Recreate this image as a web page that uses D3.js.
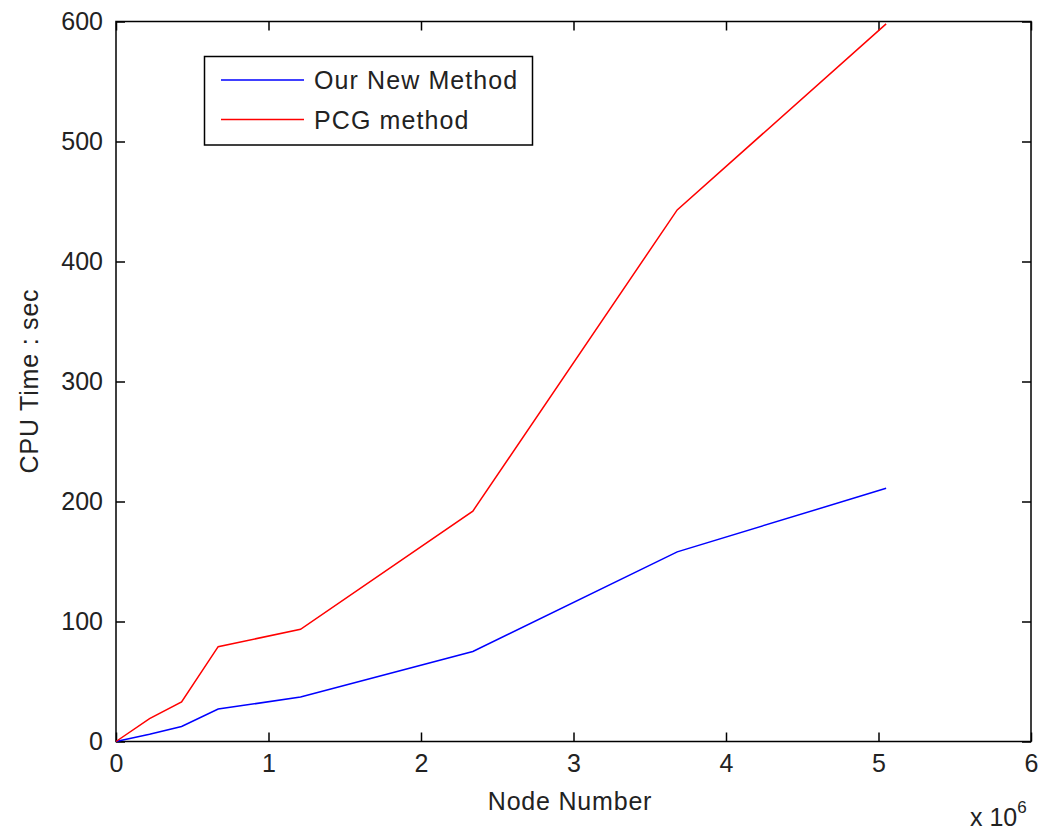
<!DOCTYPE html>
<html><head><meta charset="utf-8">
<script src="https://cdn.jsdelivr.net/npm/d3@7"></script>
<style>body{margin:0;background:#fff}</style>
</head><body>
<svg id="c" width="1038" height="835"></svg>
<script>
const xNodes = [0, 0.22, 0.43, 0.67, 1.21, 2.34, 3.68, 5.05];
const ourNew = [0, 6, 12.5, 27, 37, 75, 158, 211];
const pcg    = [0, 19, 33, 79, 93.5, 192, 443, 598];
const seriesNames = ["Our New Method", "PCG method"];
const seriesColors = ["#0000ff", "#ff0000"];
const xTicks = [0,1,2,3,4,5,6];
const yTicks = [0,100,200,300,400,500,600];

const L=116, R=1031, T=21.5, B=741.5;
const svg = d3.select("#c");
const x = d3.scaleLinear().domain([0,6]).range([L,R]);
const y = d3.scaleLinear().domain([0,600]).range([B,T]);
const font = "'Liberation Sans', Arial, sans-serif";
const fs = 25;

const tl = 9;
function styleAxis(g){
  g.selectAll("path").remove();
  g.selectAll("line").attr("stroke","#000").attr("stroke-width",1.5);
  g.selectAll("text").attr("font-family",font).attr("font-size",fs).attr("fill","#222");
}
svg.append("g").attr("transform",`translate(0,${B})`)
  .call(d3.axisBottom(x).tickValues(xTicks).tickSizeInner(-tl).tickSizeOuter(0).tickPadding(13).tickFormat(d3.format("d")))
  .call(styleAxis);
svg.append("g").attr("transform",`translate(0,${T})`)
  .call(d3.axisTop(x).tickValues(xTicks).tickSizeInner(-tl).tickSizeOuter(0).tickFormat(""))
  .call(styleAxis);
svg.append("g").attr("transform",`translate(${L},0)`)
  .call(d3.axisLeft(y).tickValues(yTicks).tickSizeInner(-tl).tickSizeOuter(0).tickPadding(13).tickFormat(d3.format("d")))
  .call(styleAxis);
svg.append("g").attr("transform",`translate(${R},0)`)
  .call(d3.axisRight(y).tickValues(yTicks).tickSizeInner(-tl).tickSizeOuter(0).tickFormat(""))
  .call(styleAxis);

svg.append("rect").attr("x",L).attr("y",T).attr("width",R-L).attr("height",B-T)
  .attr("fill","none").attr("stroke","#000").attr("stroke-width",1.5);

const line = d3.line().x((d,i)=>x(xNodes[i])).y(d=>y(d));
[ourNew, pcg].forEach((s,k)=>{
  svg.append("path").datum(s).attr("d",line).attr("fill","none")
    .attr("stroke",seriesColors[k]).attr("stroke-width",1.5);
});

// legend
const lg = svg.append("g");
lg.append("rect").attr("x",204.5).attr("y",56.5).attr("width",328).attr("height",88.5)
  .attr("fill","#fff").attr("stroke","#000").attr("stroke-width",1.5);
seriesNames.forEach((n,i)=>{
  const yy = 80 + i*39.5;
  lg.append("line").attr("x1",221).attr("x2",304).attr("y1",yy).attr("y2",yy)
    .attr("stroke",seriesColors[i]).attr("stroke-width",1.5);
  lg.append("text").attr("x",314).attr("y",yy+9).text(n)
    .attr("font-family",font).attr("font-size",fs).attr("letter-spacing",1.1).attr("fill","#222");
});

svg.append("text").attr("x",570).attr("y",810).attr("text-anchor","middle")
  .attr("font-family",font).attr("font-size",fs).attr("letter-spacing",0.8).attr("fill","#222").text("Node Number");
svg.append("text").attr("transform","translate(38,381) rotate(-90)").attr("text-anchor","middle")
  .attr("font-family",font).attr("font-size",fs).attr("letter-spacing",0.8).attr("fill","#222").text("CPU Time : sec");
const ex = svg.append("text").attr("x",970).attr("y",826)
  .attr("font-family",font).attr("font-size",fs).attr("fill","#222");
ex.append("tspan").text("x 10");
ex.append("tspan").attr("dy",-13).attr("font-size",17).text("6");
</script>
</body></html>
